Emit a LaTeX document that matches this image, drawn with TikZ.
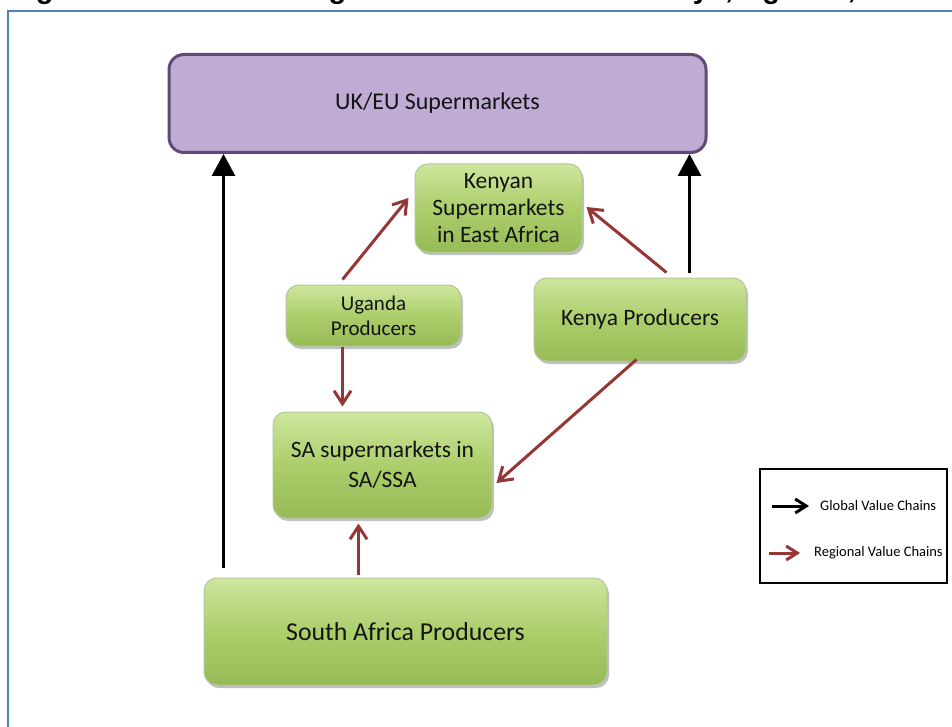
\documentclass[tikz,border=0pt]{standalone}
\usepackage{fontspec}
\setmainfont{Carlito}
\newfontfamily\arialfont{Liberation Sans}
\usetikzlibrary{arrows.meta,shadows,calc}
\definecolor{frameblue}{HTML}{4F81BD}
\definecolor{vcred}{HTML}{953735}
\definecolor{ukfill}{HTML}{BFABD4}
\definecolor{ukdraw}{HTML}{5F4A7A}
\definecolor{gtop}{HTML}{CFE69E}
\definecolor{gmid}{HTML}{ACCE6B}
\definecolor{gbot}{HTML}{96BB55}
\definecolor{gdraw}{HTML}{B3C79A}
\begin{document}
\begin{tikzpicture}[x=1pt,y=-1pt,
  greenbox/.style={rounded corners=13pt, draw=gdraw, line width=1pt,
    top color=gtop, bottom color=gbot, middle color=gmid,
    drop shadow={shadow xshift=2pt,shadow yshift=-3pt,opacity=0.35,fill=black!70},
    align=center, text=black!92, inner sep=0pt},
  gvc/.style={line width=3pt, draw=black, -{Triangle[width=23pt,length=22pt]}},
  rvc/.style={line width=3pt, draw=vcred, -{Straight Barb[length=13pt,width=17pt]}},
  gvcleg/.style={line width=3pt, draw=black, -{Straight Barb[length=11pt,width=14pt]}},
  rvcleg/.style={line width=3pt, draw=vcred, -{Straight Barb[length=11pt,width=14pt]}},
  legtext/.style={anchor=west, inner sep=0pt, font=\fontsize{14.5}{17}\selectfont}
]
\useasboundingbox (0,0) rectangle (952,727);
\clip (0,0) rectangle (952,727);
\fill[white] (0,0) rectangle (952,727);

% cut-off caption and frame
\node[anchor=base west, inner sep=0pt, font=\arialfont\bfseries\fontsize{29}{33}\selectfont] (title) at (10,-1)
  {Figure 1: Global and regional value chains in Kenya, Uganda, South Africa};
\draw[frameblue, line width=2pt] (7.5,740) -- (7.5,11.5) -- (965,11.5);

% boxes
\node[rounded corners=15pt, draw=ukdraw, line width=3pt, fill=ukfill,
      minimum width=537pt, minimum height=98pt, inner sep=0pt,
      font=\fontsize{24}{28}\selectfont, text=black!92] (uk) at (437.5,103.5) {UK/EU Supermarkets};
\node[greenbox, minimum width=167pt, minimum height=88pt, font=\fontsize{23.5}{27}\selectfont] (ksm) at (498.5,208)
  {Kenyan\\Supermarkets\\in East Africa};
\node[greenbox, minimum width=175pt, minimum height=61pt, font=\fontsize{21}{25}\selectfont] (ug) at (373.5,315.5)
  {Uganda\\Producers};
\node[greenbox, minimum width=212pt, minimum height=83pt, font=\fontsize{23.5}{27}\selectfont] (kp) at (640,319.5)
  {Kenya Producers};
\node[greenbox, minimum width=219pt, minimum height=106pt, font=\fontsize{23.5}{30}\selectfont] (sasm) at (382.5,465)
  {SA supermarkets in\\SA/SSA};
\node[greenbox, minimum width=403pt, minimum height=107pt, font=\fontsize{25.8}{30}\selectfont] (sap) at (405.5,631.5)
  {South Africa Producers};

% global value chains
\coordinate (g1) at ([xshift=20pt,yshift=10pt]sap.north west);
\coordinate (g2) at ([xshift=156pt,yshift=5pt]kp.north west);
\draw[gvc] (g1) -- (g1 |- uk.south);
\draw[gvc] (g2) -- (g2 |- uk.south);

% regional value chains
\draw[rvc] ([xshift=57pt,yshift=5pt]ug.north west) -- ([xshift=-6pt,yshift=10pt]ksm.west);
\draw[rvc] ([xshift=133pt,yshift=5pt]kp.north west) -- ([xshift=4pt,yshift=1pt]ksm.east);
\coordinate (r3) at ([xshift=57pt]ug.south west);
\draw[rvc] (r3) -- ([yshift=5pt]r3 |- sasm.north);
\draw[rvc] ([xshift=103pt,yshift=2pt]kp.south west) -- ([xshift=4pt,yshift=-18pt]sasm.east);
\coordinate (r5) at ([xshift=155pt,yshift=3pt]sap.north west);
\draw[rvc] (r5) -- ([yshift=-5pt]r5 |- sasm.south);

% legend
\node[draw=black, line width=2pt, minimum width=187pt, minimum height=114pt, inner sep=0pt] (legend) at (853.5,526) {};
\coordinate (lg1) at ([xshift=13pt,yshift=-38pt]legend.north west);
\coordinate (lg2) at ([xshift=10pt,yshift=-85pt]legend.north west);
\draw[gvcleg] (lg1) -- ++(37,0);
\draw[rvcleg] (lg2) -- ++(31,0);
\node[legtext] (lt1) at ([xshift=61pt,yshift=-38pt]legend.north west) {Global Value Chains};
\node[legtext] (lt2) at ([xshift=55pt,yshift=-85pt]legend.north west) {Regional Value Chains};
\end{tikzpicture}
\end{document}
